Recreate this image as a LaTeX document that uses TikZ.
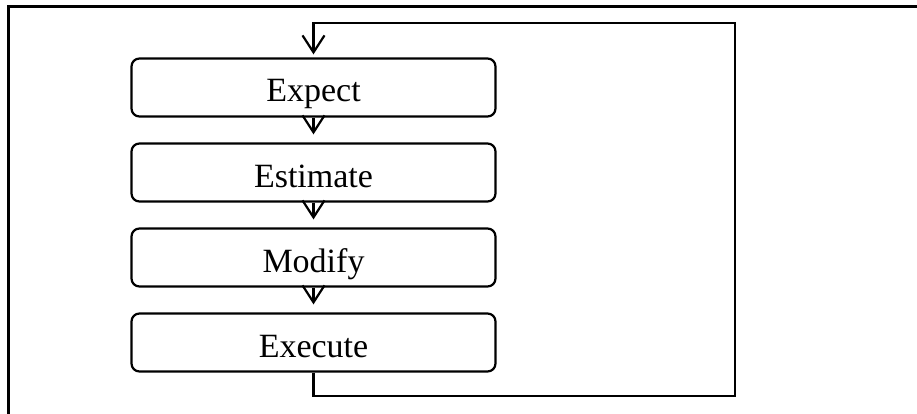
\documentclass[tikz,border=0pt]{standalone}
\usepackage{fontspec}
\setmainfont{Liberation Serif}
\usetikzlibrary{arrows.meta}
\begin{document}
\begin{tikzpicture}[x=1pt,y=-1pt,
  stepbox/.style={draw, line width=2.2pt, rounded corners=8pt, minimum width=364pt, minimum height=58pt, inner sep=0pt, text height=29pt, text depth=0pt, font=\fontsize{34}{40}\selectfont},
  conn/.style={line width=2.2pt},
  arr/.style={conn, -{Straight Barb[length=17pt,width=22pt,line width=2.2pt]}},
  frame/.style={line width=3pt}]
\useasboundingbox (0,0) rectangle (917,414);
\draw[frame] (8,414) -- (8,7) -- (917,7);
\node[stepbox] (expect) at (313.5,87.5) {Expect};
\node[stepbox] (estimate) at (313.5,172.5) {Estimate};
\node[stepbox] (modify) at (313.5,257.5) {Modify};
\node[stepbox] (execute) at (313.5,342.5) {Execute};
\draw[arr, shorten >=8pt] (expect.south) -- (estimate.north);
\draw[arr, shorten >=8pt] (estimate.south) -- (modify.north);
\draw[arr, shorten >=8pt] (modify.south) -- (execute.north);
\coordinate (c1) at (313.5,396);
\coordinate (c2) at (735,396);
\coordinate (c3) at (735,23);
\coordinate (c4) at (313.5,23);
\draw[arr, shorten >=3pt] (execute.south) -- (c1) -- (c2) -- (c3) -- (c4) -- (expect.north);
\end{tikzpicture}
\end{document}
